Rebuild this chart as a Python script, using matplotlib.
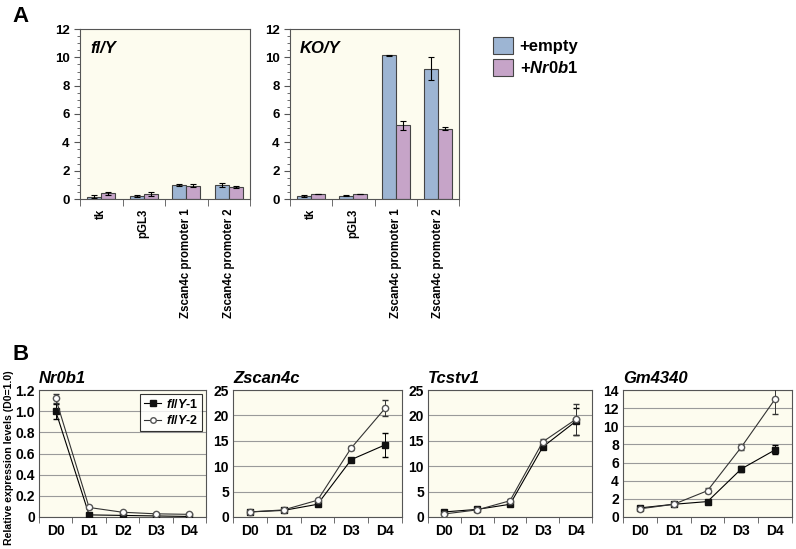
import numpy as np
import matplotlib
matplotlib.use("Agg")
import matplotlib.pyplot as plt
from matplotlib.ticker import MultipleLocator, FixedLocator, FuncFormatter
from matplotlib.lines import Line2D
from matplotlib.patches import Patch

plt.rcParams["font.family"] = ["Liberation Sans", "DejaVu Sans"]
plt.rcParams["font.weight"] = "bold"
plt.rcParams["mathtext.fontset"] = "custom"
plt.rcParams["mathtext.it"] = "Liberation Sans:bold:italic"
plt.rcParams["mathtext.rm"] = "Liberation Sans:bold"

# ---- panel A data ----
constructs = ["tk", "pGL3", "Zscan4c promoter 1", "Zscan4c promoter 2"]
fl_empty = [0.15, 0.2, 1.0, 1.0]
fl_empty_err = [0.1, 0.08, 0.05, 0.15]
fl_nr0b1 = [0.4, 0.35, 0.95, 0.85]
fl_nr0b1_err = [0.1, 0.12, 0.1, 0.05]
ko_empty = [0.22, 0.22, 10.15, 9.2]
ko_empty_err = [0.05, 0.03, 0.05, 0.8]
ko_nr0b1 = [0.35, 0.35, 5.2, 4.95]
ko_nr0b1_err = [0.02, 0.03, 0.3, 0.1]

# ---- panel B data ----
days = ["D0", "D1", "D2", "D3", "D4"]
genes = ["Nr0b1", "Zscan4c", "Tcstv1", "Gm4340"]
rep1 = {
    "Nr0b1": [1.0, 0.02, 0.015, 0.01, 0.005],
    "Zscan4c": [1.0, 1.3, 2.5, 11.3, 14.2],
    "Tcstv1": [1.0, 1.5, 2.5, 13.8, 18.8],
    "Gm4340": [1.0, 1.4, 1.7, 5.3, 7.4],
}
rep1_err = {
    "Nr0b1": [0.07, 0.01, 0.005, 0.005, 0.005],
    "Zscan4c": [0.1, 0.1, 0.2, 0.3, 2.3],
    "Tcstv1": [0.1, 0.1, 0.2, 0.4, 2.7],
    "Gm4340": [0.05, 0.1, 0.1, 0.3, 0.5],
}
rep2 = {
    "Nr0b1": [1.12, 0.09, 0.045, 0.03, 0.025],
    "Zscan4c": [1.0, 1.4, 3.3, 13.6, 21.4],
    "Tcstv1": [0.6, 1.4, 3.2, 14.8, 19.2],
    "Gm4340": [0.9, 1.4, 2.9, 7.7, 13.0],
}
rep2_err = {
    "Nr0b1": [0.04, 0.01, 0.005, 0.005, 0.005],
    "Zscan4c": [0.1, 0.1, 0.3, 0.4, 1.6],
    "Tcstv1": [0.1, 0.1, 0.3, 0.5, 3.0],
    "Gm4340": [0.05, 0.1, 0.3, 0.3, 1.7],
}
ylims = {"Nr0b1": (0, 1.2, 0.2), "Zscan4c": (0, 25, 5),
         "Tcstv1": (0, 25, 5), "Gm4340": (0, 14, 2)}

bg = "#fdfcef"
blue = "#9db5d3"
purple = "#c6a4c8"
edge = "#444444"

fig = plt.figure(figsize=(7.96, 5.49), dpi=100)
W, H = 796.0, 549.0


def add_ax(x0, y0, x1, y1):
    return fig.add_axes([x0 / W, 1 - y1 / H, (x1 - x0) / W, (y1 - y0) / H])


def tick_fmt(v, pos):
    if abs(v) < 1e-9:
        return "0"
    if v == int(v) and abs(v) >= 2:
        return "%d" % v
    return "%.1f" % v


def bar_panel(ax, empty, e_err, nr, n_err, title):
    x = np.arange(len(constructs))
    w = 0.33
    ax.set_facecolor(bg)
    ax.bar(x - w / 2, empty, w, color=blue, edgecolor=edge, linewidth=0.8,
           yerr=e_err, capsize=2.5, error_kw=dict(elinewidth=0.8, capthick=0.8))
    ax.bar(x + w / 2, nr, w, color=purple, edgecolor=edge, linewidth=0.8,
           yerr=n_err, capsize=2.5, error_kw=dict(elinewidth=0.8, capthick=0.8))
    ax.set_xlim(-0.5, len(constructs) - 0.5)
    ax.set_ylim(0, 12)
    ax.yaxis.set_major_locator(MultipleLocator(2))
    ax.yaxis.set_minor_locator(MultipleLocator(0.5))
    ax.xaxis.set_major_locator(FixedLocator(x))
    ax.xaxis.set_minor_locator(FixedLocator(np.arange(-0.5, len(constructs), 1.0)))
    ax.set_xticklabels(constructs, rotation=90, fontsize=8.3, fontweight="bold")
    ax.tick_params(axis="x", which="major", length=0, pad=7)
    ax.tick_params(axis="x", which="minor", length=5, direction="out", color="#555555")
    ax.tick_params(axis="y", which="major", length=4, labelsize=9.5, color="#555555")
    ax.tick_params(axis="y", which="minor", length=2, color="#555555")
    for lab in ax.get_yticklabels():
        lab.set_fontweight("bold")
    for s in ax.spines.values():
        s.set_color("#555555")
        s.set_linewidth(0.8)
    ax.text(0.06, 0.93, title, transform=ax.transAxes, fontsize=12,
            fontweight="bold", fontstyle="italic", va="top")


ax_fl = add_ax(80, 29, 250, 199)
bar_panel(ax_fl, fl_empty, fl_empty_err, fl_nr0b1, fl_nr0b1_err, "fl/Y")
ax_ko = add_ax(290, 29, 459, 199)
bar_panel(ax_ko, ko_empty, ko_empty_err, ko_nr0b1, ko_nr0b1_err, "KO/Y")

handles = [Patch(facecolor=blue, edgecolor=edge, linewidth=0.8),
           Patch(facecolor=purple, edgecolor=edge, linewidth=0.8)]
fig.legend(handles, ["+empty", "+$\\mathit{Nr0b1}$"], loc="upper left",
           bbox_to_anchor=(478 / W, 1 - 22 / H), frameon=False,
           handlelength=1.2, handleheight=1.2, handletextpad=0.4, labelspacing=0.3,
           prop={"weight": "bold", "size": 12})

fig.text(12 / W, 1 - 16 / H, "A", fontsize=16, fontweight="bold", va="center")
fig.text(12 / W, 1 - 354 / H, "B", fontsize=16, fontweight="bold", va="center")

b_pos = {"Nr0b1": (39, 206), "Zscan4c": (233, 402),
         "Tcstv1": (428, 592), "Gm4340": (623, 792)}
for g in genes:
    x0, x1 = b_pos[g]
    ax = add_ax(x0, 390, x1, 517)
    ax.set_facecolor(bg)
    lo, hi, step = ylims[g]
    xs = np.arange(len(days))
    ax.yaxis.grid(True, color="#9a9a9a", linewidth=0.8)
    ax.set_axisbelow(True)
    ax.errorbar(xs, rep1[g], yerr=rep1_err[g], color="black", linewidth=0.8,
                marker="s", markersize=5, markerfacecolor="#111111",
                markeredgecolor="#111111", capsize=2, elinewidth=0.7, zorder=3)
    ax.errorbar(xs, rep2[g], yerr=rep2_err[g], color="#333333", linewidth=0.8,
                marker="o", markersize=4.5, markerfacecolor="white",
                markeredgecolor="#555555", capsize=2, elinewidth=0.7, zorder=3)
    ax.set_xlim(-0.5, len(days) - 0.5)
    ax.set_ylim(lo, hi)
    ax.yaxis.set_major_locator(MultipleLocator(step))
    ax.yaxis.set_major_formatter(FuncFormatter(tick_fmt))
    ax.xaxis.set_major_locator(FixedLocator(xs))
    ax.xaxis.set_minor_locator(FixedLocator(np.arange(-0.5, len(days), 1.0)))
    ax.set_xticklabels(days, fontsize=10, fontweight="bold")
    ax.tick_params(axis="x", which="major", length=0, pad=5)
    ax.tick_params(axis="x", which="minor", length=4, direction="out", color="#555555")
    ax.tick_params(axis="y", length=0, labelsize=10, pad=3)
    for lab in ax.get_yticklabels():
        lab.set_fontweight("bold")
    for s in ax.spines.values():
        s.set_color("#555555")
        s.set_linewidth(0.8)
    if g == "Nr0b1":
        leg_handles = [
            Line2D([], [], color="black", linewidth=0.8, marker="s", markersize=4,
                   markerfacecolor="#111111", markeredgecolor="#111111"),
            Line2D([], [], color="#333333", linewidth=0.8, marker="o", markersize=4,
                   markerfacecolor="white", markeredgecolor="#555555"),
        ]
        leg = ax.legend(leg_handles, ["$\\mathit{fl/Y}$-1", "$\\mathit{fl/Y}$-2"],
                        loc="upper right", fontsize=9, frameon=True, fancybox=False,
                        edgecolor="black", handlelength=1.4, borderpad=0.3,
                        labelspacing=0.3, handletextpad=0.4, borderaxespad=0.3)
        leg.get_frame().set_linewidth(0.8)
        for t in leg.get_texts():
            t.set_fontweight("bold")
    ax.text(0.0, 1.03, g, transform=ax.transAxes, fontsize=12, fontweight="bold",
            fontstyle="italic", va="bottom", ha="left")

fig.text(9 / W, 1 - 458 / H, "Relative expression levels (D0=1.0)", rotation=90,
         fontsize=7.6, fontweight="bold", va="center", ha="center")

fig.savefig("out.png", dpi=100)
